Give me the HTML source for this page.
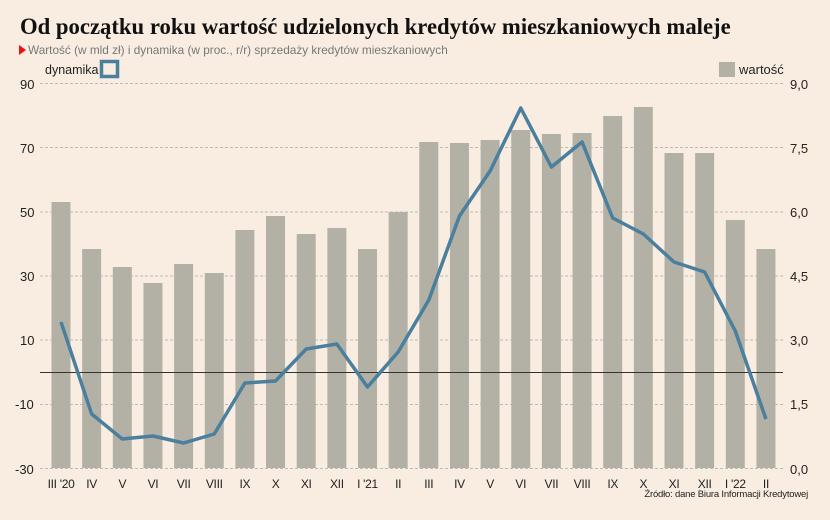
<!DOCTYPE html>
<html><head><meta charset="utf-8"><style>
body{margin:0;background:#f9ede1;}
svg{display:block;font-family:"Liberation Sans",sans-serif;}
</style></head><body>
<svg width="830" height="520" xmlns="http://www.w3.org/2000/svg">
<rect width="830" height="520" fill="#f9ede1"/>
<text x="20" y="34" font-family="Liberation Serif,serif" font-weight="bold" font-size="22.7" fill="#111">Od początku roku wartość udzielonych kredytów mieszkaniowych maleje</text>
<polygon points="19,45 26,50 19,55" fill="#e11"/>
<text x="28" y="54" font-size="11.8" fill="#777">Wartość (w mld zł) i dynamika (w proc., r/r) sprzedaży kredytów mieszkaniowych</text>
<text x="45" y="74" font-size="12.5" fill="#222">dynamika</text>
<rect x="101.5" y="61.5" width="16" height="15" fill="none" stroke="#4a7f9e" stroke-width="3.5"/>
<rect x="719" y="62" width="16" height="15" fill="#b3b1a6"/>
<text x="739" y="74" font-size="13" fill="#222">wartość</text>
<g stroke="#bbb" stroke-dasharray="3,2" stroke-width="1">
<line x1="40" x2="783" y1="83.5" y2="83.5"/><line x1="40" x2="783" y1="147.5" y2="147.5"/>
<line x1="40" x2="783" y1="212" y2="212"/><line x1="40" x2="783" y1="276" y2="276"/>
<line x1="40" x2="783" y1="340" y2="340"/><line x1="40" x2="783" y1="404.5" y2="404.5"/>
<line x1="40" x2="783" y1="468.5" y2="468.5"/>
</g>
<g font-size="13" fill="#222">
<text x="20" y="89">90</text><text x="20" y="153">70</text><text x="20" y="217">50</text><text x="20" y="281">30</text><text x="20" y="345">10</text><text x="15" y="409">-10</text><text x="15" y="474">-30</text>
<text x="790" y="89">9,0</text><text x="790" y="153">7,5</text><text x="790" y="217">6,0</text><text x="790" y="281">4,5</text><text x="790" y="345">3,0</text><text x="790" y="409">1,5</text><text x="790" y="474">0,0</text>
</g>
<g fill="#b3b1a6" id="bars"></g>
<line x1="40" x2="783" y1="372.5" y2="372.5" stroke="#333" stroke-width="1"/>
<polyline id="ln" fill="none" stroke="#4a7f9e" stroke-width="3.5" stroke-linejoin="round"/>
<g id="xl" font-size="12" fill="#222" text-anchor="middle" letter-spacing="-0.3"></g>
<text x="808" y="497" font-size="9.5" fill="#222" text-anchor="end" letter-spacing="-0.2">Źródło: dane Biura Informacji Kredytowej</text>
</svg>
<script>
var tops=[202,249,267,283,264,273,230,216,234,228,249,212,142,143,140,130,134,133,116,107,153,153,220,249];
var ly=[322,414,439,436,443,434,383,381,349,344,387,352,300,216,171,108,167,142,218,234,262,272,331,419];
var lab=["III '20","IV","V","VI","VII","VIII","IX","X","XI","XII","I '21","II","III","IV","V","VI","VII","VIII","IX","X","XI","XII","I '22","II"];
var ns="http://www.w3.org/2000/svg",b=document.getElementById("bars"),xl=document.getElementById("xl"),pts=[];
for(var i=0;i<24;i++){var cx=61+i*30.65;
var r=document.createElementNS(ns,"rect");r.setAttribute("x",cx-9.5);r.setAttribute("y",tops[i]);r.setAttribute("width",19);r.setAttribute("height",468-tops[i]);b.appendChild(r);
var t=document.createElementNS(ns,"text");t.setAttribute("x",cx);t.setAttribute("y",488);t.textContent=lab[i];xl.appendChild(t);
pts.push(cx+","+ly[i]);}
document.getElementById("ln").setAttribute("points",pts.join(" "));
</script>
</body></html>
